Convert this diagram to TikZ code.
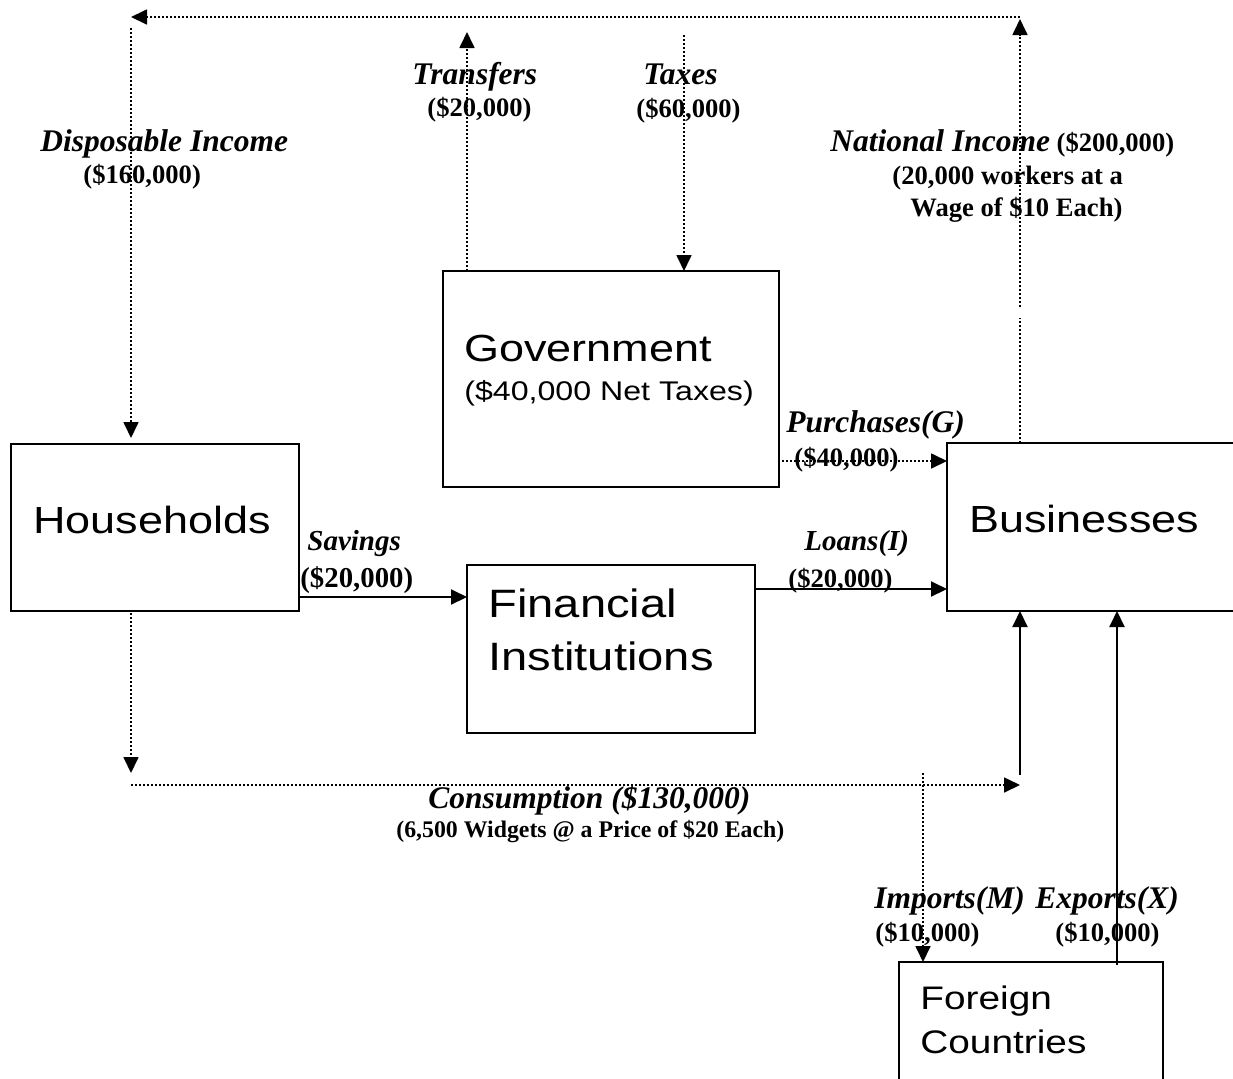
\documentclass[tikz,border=0pt]{standalone}
\usepackage{fontspec}
\setmainfont{Liberation Serif}
\newfontfamily\boxfont[FakeStretch=1.19]{Liberation Sans}
\usetikzlibrary{arrows.meta,calc}
\tikzset{
  box/.style={draw, line width=1pt, inner sep=0pt, outer sep=0pt},
  tip/.style={-{Triangle[length=8pt,width=7.5pt]}},
  flow/.style={line width=1pt, tip},
  dline/.style={line width=0.85pt, dash pattern=on 1pt off 1pt},
  dflow/.style={dline, tip},
  lab/.style={anchor=base west, inner sep=0pt, font=\fontsize{15.75}{18}\selectfont\bfseries\itshape},
  labs/.style={anchor=base west, inner sep=0pt, font=\fontsize{14.5}{17}\selectfont\bfseries\itshape},
  amt/.style={anchor=base west, inner sep=0pt, font=\fontsize{13.3}{16}\selectfont\bfseries},
  amts/.style={anchor=base west, inner sep=0pt, font=\fontsize{14.4}{17}\selectfont\bfseries},
  small/.style={anchor=base west, inner sep=0pt, font=\fontsize{11.9}{14}\selectfont\bfseries},
  big/.style={anchor=base west, inner sep=0pt, font=\fontsize{18.9}{22}\selectfont\boxfont},
  bigf/.style={anchor=base west, inner sep=0pt, font=\fontsize{19.8}{23}\selectfont\boxfont},
  mid/.style={anchor=base west, inner sep=0pt, font=\fontsize{13.5}{16}\selectfont\boxfont},
  fcl/.style={anchor=base west, inner sep=0pt, font=\fontsize{16.3}{19}\selectfont\boxfont},
}
\begin{document}
\begin{tikzpicture}[x=0.5pt,y=-0.5pt]
\useasboundingbox (0,0) rectangle (1233,1078);
\fill[white] (0,0) rectangle (1233,1078);
\clip (0,0) rectangle (1233,1078);

% boxes
\node[box, minimum width=144pt, minimum height=83.5pt] (hh) at (155,527.5) {};
\node[box, minimum width=168pt, minimum height=108pt] (gov) at (611,379) {};
\node[box, minimum width=144pt, minimum height=84pt] (fin) at (611,649) {};
\node[box, minimum width=149pt, minimum height=84pt] (bus) at (1096,527) {};
\node[box, minimum width=132pt, minimum height=64pt] (fc) at (1031,1026) {};

% box texts
\node[big] (hhT) at (33,533) {Households};
\node[big] (govT) at (464,361) {Government};
\node[mid] (govS) at (464,400) {(\$40,000 Net Taxes)};
\node[bigf] (finT1) at (488,617) {Financial};
\node[bigf] (finT2) at (488,670) {Institutions};
\node[big] (busT) at (969,532) {Businesses};
\node[fcl] (fcT1) at (920,1009) {Foreign};
\node[fcl] (fcT2) at (920,1053) {Countries};

% flow labels
\node[lab] (diL) at (40,151) {Disposable Income};
\node[amt] (diA) at (83,183) {(\$160,000)};
\node[lab] (trL) at (412,84) {Transfers};
\node[amt] (trA) at (427,116) {(\$20,000)};
\node[lab] (txL) at (643,84) {Taxes};
\node[amt] (txA) at (636,117) {(\$60,000)};
\node[amt] (niL) at (830,151) {{\fontsize{15.75}{18}\selectfont\itshape National Income} (\$200,000)};
\node[amt] (niA) at (892,184) {(20,000 workers at a};
\node[amt] (niB) at (910,216) {Wage of \$10 Each)};
\node[lab] (puL) at (786,432) {Purchases(G)};
\node[amt] (puA) at (794,466) {(\$40,000)};
\node[labs] (svL) at (307,550) {Savings};
\node[amts] (svA) at (300,587) {(\$20,000)};
\node[labs] (loL) at (804,550) {Loans(I)};
\node[amt] (loA) at (788,587) {(\$20,000)};
\node[lab] (coL) at (428,808) {Consumption (\$130,000)};
\node[small] (coA) at (396,837) {(6,500 Widgets @ a Price of \$20 Each)};
\node[lab] (imL) at (874,908) {Imports(M)};
\node[amt] (imA) at (875,941) {(\$10,000)};
\node[lab] (exL) at (1035,908) {Exports(X)};
\node[amt] (exA) at (1055,941) {(\$10,000)};

% free ends
\coordinate (niTop) at (1020,19);
\coordinate (topR) at (1020,17);
\coordinate (topL) at (131,17);
\coordinate (diTop) at (131,28);
\coordinate (trTop) at (467,32);
\coordinate (txTop) at (684,35);
\coordinate (hhDown) at (131,773);
\coordinate (consL) at (131,785);
\coordinate (consR) at (1020,785);
\coordinate (consUp) at (1020,775);
\coordinate (impTop) at (923,773);

% connectors
\draw[dline] ($(bus.north west)+(73,0)$) -- ($(bus.north west)+(73,-125)$);
\draw[dflow] ($(bus.north west)+(73,-136)$) -- (niTop);
\draw[dflow] (topR) -- (topL);
\draw[dflow] (diTop) -- ($(hh.north west)+(120,-6)$);
\draw[dflow] ($(gov.north west)+(24,0)$) -- (trTop);
\draw[dflow] (txTop) -- ($(gov.north west)+(241,0)$);
\draw[dflow] ($(gov.south east)+(3,-26)$) -- ($(bus.north west)+(0,18)$);
\draw[flow] ($(hh.north east)+(0,153)$) -- ($(fin.north west)+(0,32)$);
\draw[flow] ($(fin.north east)+(0,24)$) -- ($(bus.north west)+(0,146)$);
\draw[dflow] ($(hh.south west)+(120,2)$) -- (hhDown);
\draw[dflow] (consL) -- (consR);
\draw[flow] (consUp) -- ($(bus.south west)+(73,0)$);
\draw[dflow] (impTop) -- ($(fc.north west)+(24,0)$);
\draw[flow] ($(fc.north west)+(218,3)$) -- ($(bus.south west)+(170,0)$);
\end{tikzpicture}
\end{document}
